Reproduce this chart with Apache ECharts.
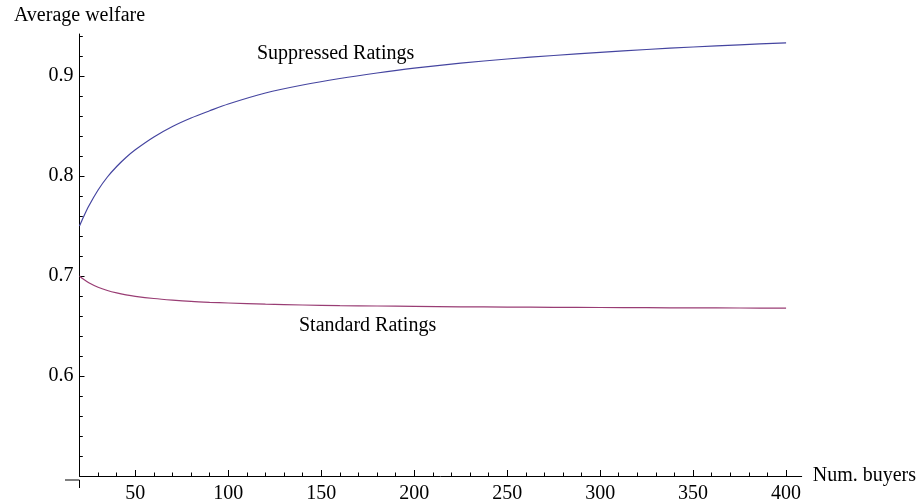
<!DOCTYPE html>
<html lang="en">

<head>
  <meta charset="UTF-8">
  <title>Average welfare</title>
  <script src="https://cdn.jsdelivr.net/npm/echarts@6.0.0/dist/echarts.min.js"></script>
</head>

<body style="margin:0">
  <div id="main" style="width: 921px;height:504px;"></div>

  <script type="text/javascript">
    // Number of buyers (sample points)
    const buyers = [20, 22, 25, 30, 35, 40, 45, 50, 60, 70, 80, 90, 100, 120, 140, 160, 180, 200, 225, 250, 275, 300, 325, 350, 375, 400];
    const suppressed = [0.7500, 0.7585, 0.7700, 0.7860, 0.7990, 0.8095, 0.8185, 0.8262, 0.8390, 0.8495, 0.8580, 0.8652, 0.8720, 0.8830, 0.8910, 0.8975, 0.9030, 0.9078, 0.9128, 0.9170, 0.9205, 0.9236, 0.9265, 0.9290, 0.9312, 0.9332];
    const standard = [0.7000, 0.6969, 0.6932, 0.6887, 0.6855, 0.6831, 0.6812, 0.6797, 0.6775, 0.6759, 0.6746, 0.6737, 0.6730, 0.6718, 0.6710, 0.6704, 0.6700, 0.6696, 0.6692, 0.6689, 0.6687, 0.6685, 0.6683, 0.6681, 0.6680, 0.6679];

    // Tick labels / tick positions
    const xMajor = [50, 100, 150, 200, 250, 300, 350, 400];
    const xMinor = [30, 40, 60, 70, 80, 90, 110, 120, 130, 140, 160, 170, 180, 190, 210, 220, 230, 240, 260, 270, 280, 290, 310, 320, 330, 340, 360, 370, 380, 390];
    const yMajor = [0.6, 0.7, 0.8, 0.9];
    const yMinor = [0.52, 0.54, 0.56, 0.58, 0.62, 0.64, 0.66, 0.68, 0.72, 0.74, 0.76, 0.78, 0.82, 0.84, 0.86, 0.88, 0.92, 0.94];

    const font = 'Liberation Serif';
    const xMin = 20, xMax = 408.4, yMin = 0.5, yMax = 0.942;

    let myChart = echarts.init(document.getElementById('main'));

    const lineStyle = { color: '#000', width: 1 };

    const options = {
      animation: false,
      grid: { left: 79.5, right: 119.3, top: 34, bottom: 24 },
      xAxis: [
        {
          type: 'value', min: xMin, max: xMax, position: 'bottom',
          name: 'Num. buyers', nameLocation: 'end', nameGap: 11,
          nameTextStyle: { fontFamily: font, fontSize: 20, color: '#000' },
          axisLine: { lineStyle: lineStyle },
          axisTick: { inside: true, length: 3.5, customValues: xMinor, lineStyle: lineStyle },
          axisLabel: { show: false },
          splitLine: { show: false }
        },
        {
          type: 'value', min: xMin, max: xMax, position: 'bottom',
          axisLine: { show: false },
          axisTick: { inside: true, length: 6, customValues: xMajor, lineStyle: lineStyle },
          axisLabel: { customValues: xMajor, margin: 8, fontFamily: font, fontSize: 20, color: '#000' },
          splitLine: { show: false }
        }
      ],
      yAxis: [
        {
          type: 'value', min: yMin, max: yMax, position: 'left',
          name: 'Average welfare', nameLocation: 'end', nameGap: 8,
          nameTextStyle: { fontFamily: font, fontSize: 20, color: '#000', align: 'center', verticalAlign: 'bottom' },
          axisLine: { show: true, lineStyle: lineStyle },
          axisTick: { show: true, inside: true, length: 3.3, customValues: yMinor, lineStyle: lineStyle },
          axisLabel: { show: false },
          splitLine: { show: false }
        },
        {
          type: 'value', min: yMin, max: yMax, position: 'left',
          axisLine: { show: false },
          axisTick: { show: true, inside: true, length: 5, customValues: yMajor, lineStyle: lineStyle },
          axisLabel: { customValues: yMajor, margin: 6, fontFamily: font, fontSize: 20, color: '#000', formatter: v => v.toFixed(1) },
          splitLine: { show: false }
        }
      ],
      series: [
        {
          name: 'Suppressed Ratings', type: 'line', xAxisIndex: 0, yAxisIndex: 0,
          data: buyers.map((b, i) => [b, suppressed[i]]),
          showSymbol: false, smooth: 0.3,
          lineStyle: { color: '#4545a0', width: 1.2 }
        },
        {
          name: 'Standard Ratings', type: 'line', xAxisIndex: 0, yAxisIndex: 0,
          data: buyers.map((b, i) => [b, standard[i]]),
          showSymbol: false, smooth: 0.3,
          lineStyle: { color: '#993d74', width: 1.2 }
        }
      ],
      graphic: [
        { type: 'text', left: 257, top: 44, style: { text: 'Suppressed Ratings', font: '20px "Liberation Serif"', fill: '#000' } },
        { type: 'text', left: 299, top: 316, style: { text: 'Standard Ratings', font: '20px "Liberation Serif"', fill: '#000' } },
        // axis overhangs, as in the original plot
        { type: 'line', shape: { x1: 65, y1: 480, x2: 79.5, y2: 480 }, style: { stroke: '#000', lineWidth: 1 } },
        { type: 'line', shape: { x1: 79.5, y1: 480, x2: 79.5, y2: 488 }, style: { stroke: '#000', lineWidth: 1 } }
      ]
    };

    myChart.setOption(options);
  </script>
</body>

</html>
